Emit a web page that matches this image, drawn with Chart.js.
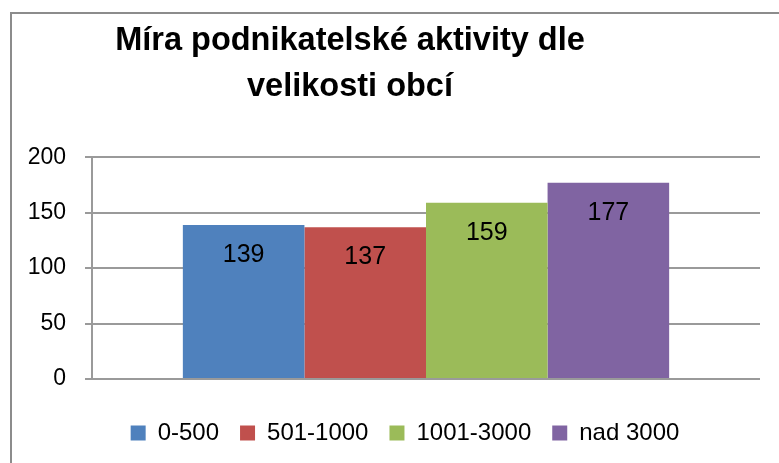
<!DOCTYPE html>
<html>
<head>
<meta charset="utf-8">
<script src="https://cdn.jsdelivr.net/npm/chart.js@4/dist/chart.umd.min.js"></script>
<style>
  html, body { margin: 0; padding: 0; background: #fff; overflow: hidden; }
  #frame { position: absolute; left: 10px; top: 12px; width: 820px; height: 520px; border: 2px solid #8c8c8c; box-sizing: border-box; }
  #wrap { position: absolute; left: 0; top: 0; width: 779px; height: 463px; }
</style>
</head>
<body>
<div id="frame"></div>
<div id="wrap"><canvas id="c" width="779" height="463"></canvas></div>
<script>
const categories = [''];
const seriesNames = ['0-500', '501-1000', '1001-3000', 'nad 3000'];
const seriesValues = [[139], [137], [159], [177]];
const seriesColors = ['#4F81BD', '#C0504D', '#9BBB59', '#8064A2'];
const titleLines = ['Míra podnikatelské aktivity dle', 'velikosti obcí'];
const yTicks = { min: 0, max: 200, step: 50 };

const FONT = "'Liberation Sans', Arial, sans-serif";

const shiftBlocks = {
  id: 'shiftBlocks',
  afterLayout(chart) {
    const t = chart.titleBlock;
    if (t) { t.left -= 40; t.right -= 40; }
    const l = chart.legend;
    if (l) { l.left += 15; l.right += 15; }
  }
};

const barLabels = {
  id: 'barLabels',
  afterDatasetsDraw(chart) {
    const ctx = chart.ctx;
    ctx.save();
    ctx.font = "25px " + FONT;
    ctx.fillStyle = '#000';
    ctx.textAlign = 'center';
    ctx.textBaseline = 'middle';
    chart.data.datasets.forEach((ds, i) => {
      chart.getDatasetMeta(i).data.forEach((el, j) => {
        ctx.fillText(String(ds.data[j]), el.x, el.y + 30);
      });
    });
    ctx.restore();
  }
};

new Chart(document.getElementById('c'), {
  type: 'bar',
  data: {
    labels: categories,
    datasets: seriesNames.map((n, i) => ({
      label: n,
      data: seriesValues[i],
      backgroundColor: seriesColors[i],
      borderWidth: 0,
      barPercentage: 1,
      categoryPercentage: 0.728
    }))
  },
  options: {
    responsive: false,
    animation: false,
    layout: { padding: { left: 20, right: 19, top: 0, bottom: 8 } },
    plugins: {
      title: {
        display: true,
        text: titleLines,
        color: '#000',
        font: { family: FONT, size: 32.5, weight: 'bold', lineHeight: 1.42 },
        padding: { top: 18, bottom: 47 }
      },
      legend: {
        position: 'bottom',
        labels: {
          color: '#000',
          font: { family: FONT, size: 24 },
          boxWidth: 15,
          boxHeight: 15,
          padding: 21
        }
      },
      tooltip: { enabled: false }
    },
    scales: {
      x: {
        ticks: { display: false },
        grid: { display: false, drawTicks: false },
        border: { display: false },
        afterFit(s) { s.height = 21; }
      },
      y: {
        min: yTicks.min,
        max: yTicks.max,
        ticks: { stepSize: yTicks.step, color: '#000', font: { family: FONT, size: 23 }, padding: 19 },
        grid: { color: '#9a9a9a', lineWidth: 2, tickLength: 7, drawTicks: true },
        border: { display: true, color: '#9a9a9a', width: 2 },
        afterFit(s) { s.width = 72; }
      }
    }
  },
  plugins: [shiftBlocks, barLabels]
});
</script>
</body>
</html>
